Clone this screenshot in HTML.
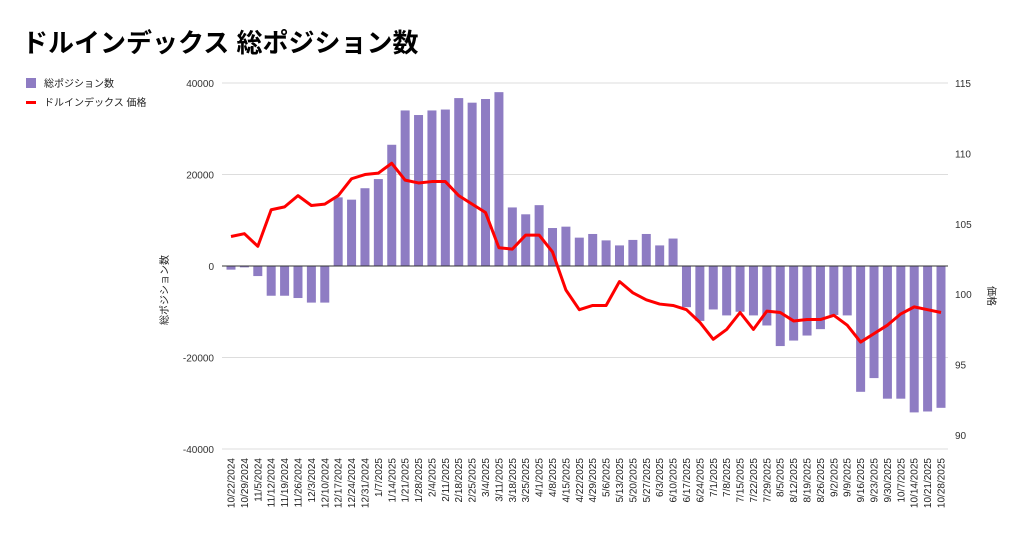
<!DOCTYPE html>
<html><head><meta charset="utf-8"><style>
body{margin:0;background:#fff;width:1024px;height:531px;overflow:hidden}
</style></head><body>
<svg id="s" width="1024" height="531" xmlns="http://www.w3.org/2000/svg" font-family="Liberation Sans, Noto Sans CJK JP, sans-serif"></svg>
<script>
const dates="10/22/2024,10/29/2024,11/5/2024,11/12/2024,11/19/2024,11/26/2024,12/3/2024,12/10/2024,12/17/2024,12/24/2024,12/31/2024,1/7/2025,1/14/2025,1/21/2025,1/28/2025,2/4/2025,2/11/2025,2/18/2025,2/25/2025,3/4/2025,3/11/2025,3/18/2025,3/25/2025,4/1/2025,4/8/2025,4/15/2025,4/22/2025,4/29/2025,5/6/2025,5/13/2025,5/20/2025,5/27/2025,6/3/2025,6/10/2025,6/17/2025,6/24/2025,7/1/2025,7/8/2025,7/15/2025,7/22/2025,7/29/2025,8/5/2025,8/12/2025,8/19/2025,8/26/2025,9/2/2025,9/9/2025,9/16/2025,9/23/2025,9/30/2025,10/7/2025,10/14/2025,10/21/2025,10/28/2025".split(",");
const bars=[-800,-300,-2200,-6500,-6500,-7000,-8000,-8000,15000,14500,17000,19000,26500,34000,33000,34000,34200,36700,35700,36500,38000,12800,11300,13300,8300,8600,6200,7000,5600,4500,5700,7000,4500,6000,-9000,-12000,-9500,-10800,-10000,-10800,-13000,-17500,-16300,-15200,-13800,-10700,-10800,-27500,-24500,-29000,-29000,-32000,-31800,-31000];
const price=[104.1,104.3,103.4,106.0,106.2,107.0,106.3,106.4,107.0,108.2,108.5,108.6,109.3,108.1,107.9,108.0,108.0,107.0,106.4,105.8,103.3,103.2,104.2,104.2,103.0,100.3,98.9,99.2,99.2,100.9,100.1,99.6,99.3,99.2,98.9,98.0,96.8,97.5,98.7,97.5,98.8,98.7,98.1,98.2,98.2,98.5,97.8,96.6,97.2,97.8,98.6,99.1,98.9,98.7];
const yL=v=>266-v*183/40000, yR=p=>83+(115-p)*70.4/5, X=i=>231+i*(710/53);
let h='';
h+='<text x="22" y="52" font-size="26" font-weight="bold" fill="#000">ドルインデックス 総ポジション数</text>';
h+='<rect x="26" y="78" width="10" height="10" fill="#8e7cc3"/><text x="44" y="87" font-size="10" fill="#222">総ポジション数</text>';
h+='<rect x="26" y="101" width="10" height="3" fill="#f00"/><text x="44" y="106" font-size="10" fill="#222">ドルインデックス 価格</text>';
for(let v=-40000;v<=40000;v+=20000){let y=yL(v);
 if(v!==0)h+=`<line x1="222" x2="948" y1="${y}" y2="${y}" stroke="#ddd" stroke-width="1"/>`;
 h+=`<text x="214" y="${y+4}" font-size="10" fill="#333" text-anchor="end">${v}</text>`;}
for(let p=90;p<=115;p+=5)h+=`<text x="955" y="${yR(p)+4}" font-size="10" fill="#333">${p}</text>`;
bars.forEach((b,i)=>{let y=yL(b);h+=`<rect x="${X(i)-4.5}" y="${Math.min(y,266)}" width="9" height="${Math.abs(y-266)}" fill="#8e7cc3"/>`;});
h+='<line x1="222" x2="948" y1="266" y2="266" stroke="#333" stroke-width="1"/>';
h+=`<polyline fill="none" stroke="#f00" stroke-width="3" stroke-linejoin="round" points="${price.map((p,i)=>X(i)+','+yR(p)).join(' ')}"/>`;
dates.forEach((d,i)=>{h+=`<text transform="translate(${X(i)+3.5},458) rotate(-90)" font-size="10" fill="#222" text-anchor="end">${d}</text>`;});
h+='<text transform="translate(168,290) rotate(-90)" font-size="10" fill="#222" text-anchor="middle">総ポジション数</text>';
h+='<text transform="translate(988,296) rotate(90)" font-size="10" fill="#222" text-anchor="middle">価格</text>';
document.getElementById('s').innerHTML=h;
</script>
</body></html>
